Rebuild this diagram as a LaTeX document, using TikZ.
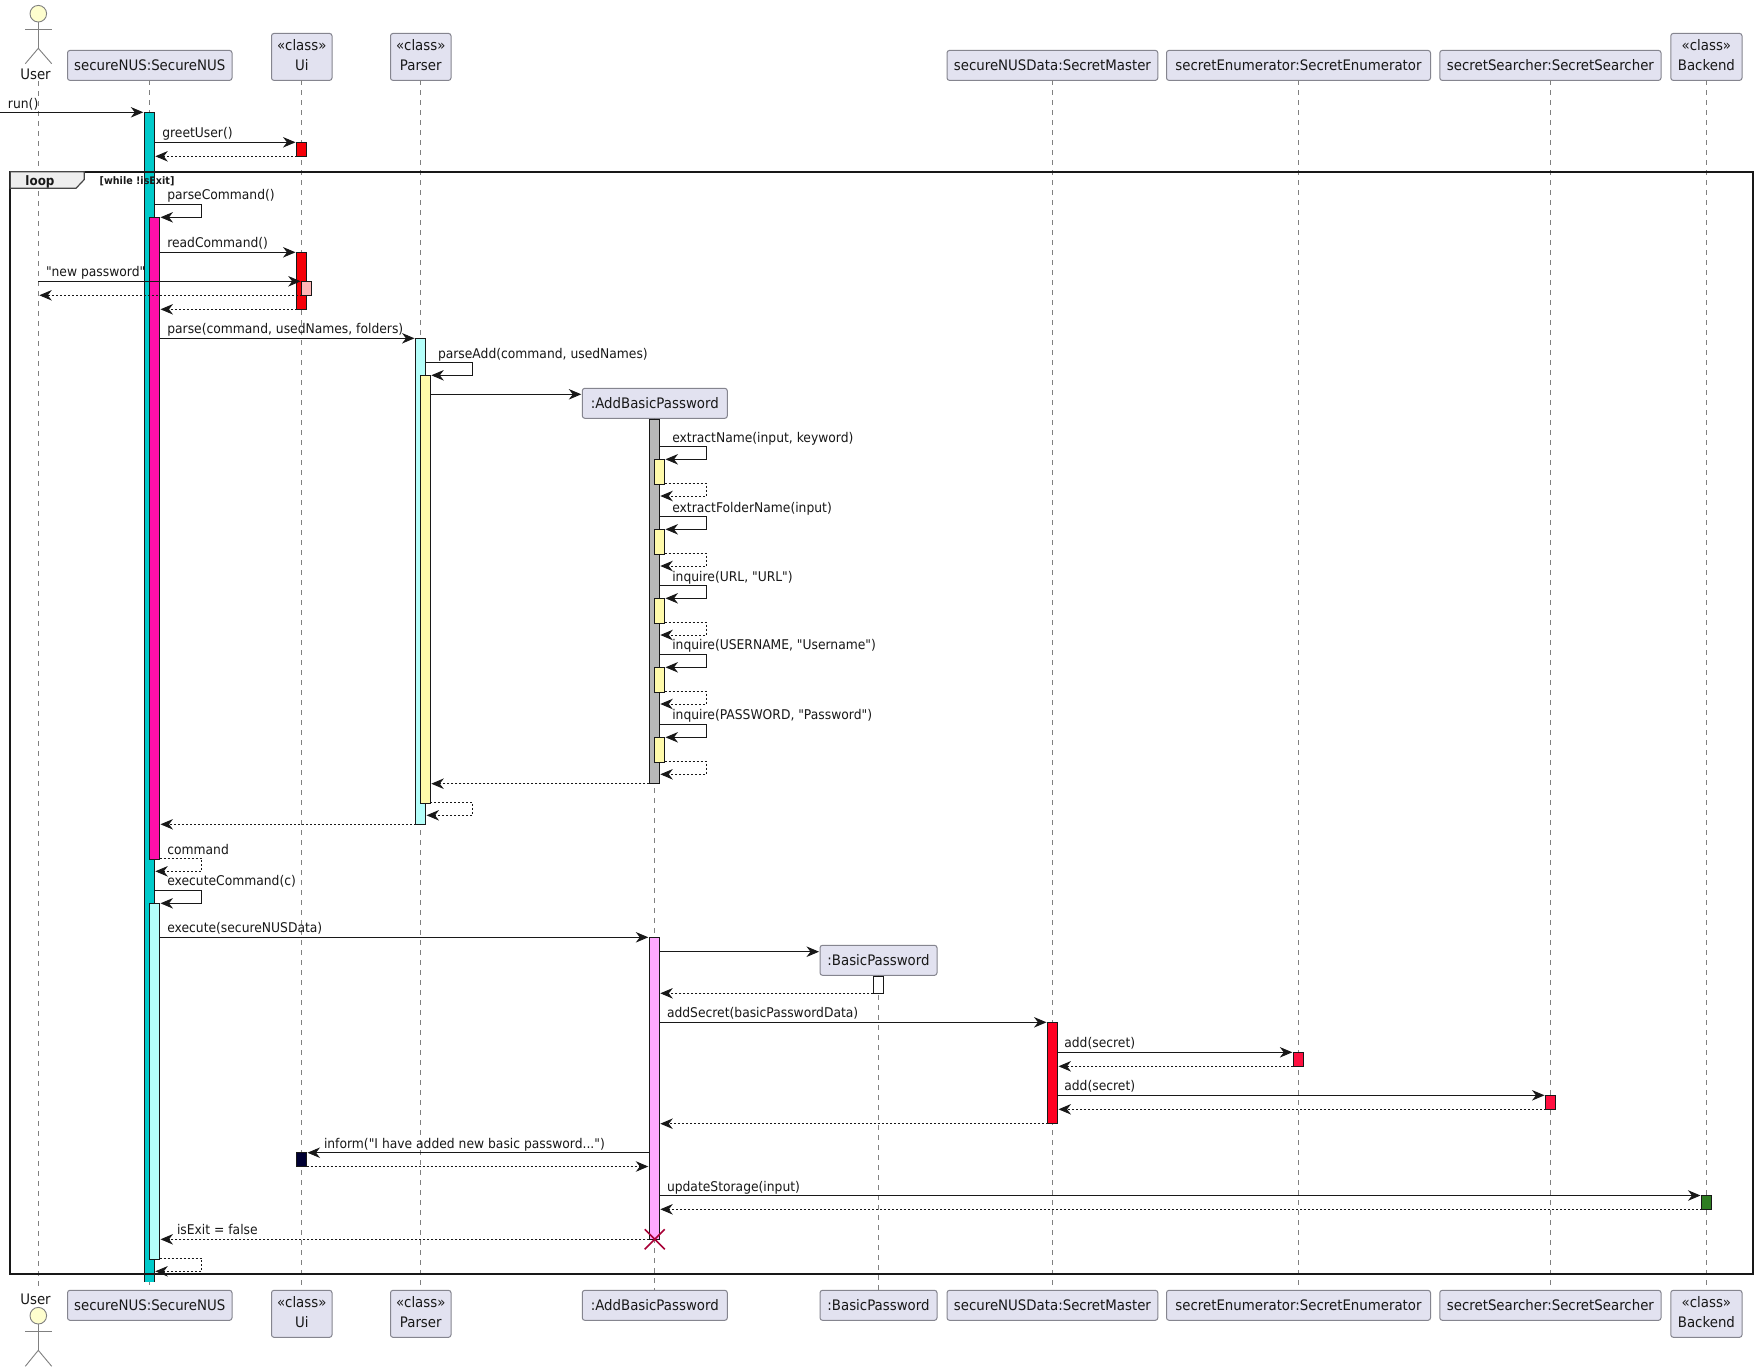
\documentclass[tikz,border=0pt]{standalone}
\usepackage{fontspec}
\setmainfont[FakeStretch=0.92]{DejaVu Sans}
\newfontfamily\plainf[FakeStretch=0.92]{DejaVu Sans}
\usetikzlibrary{arrows.meta,shapes.misc}
\definecolor{partfill}{HTML}{E2E2F0}
\definecolor{partline}{HTML}{85858F}
\definecolor{lifecol}{HTML}{808080}
\definecolor{inkc}{HTML}{181818}
\definecolor{teal1}{HTML}{00CACA}
\definecolor{pink1}{HTML}{FF0FAA}
\definecolor{red1}{HTML}{F50008}
\definecolor{red2}{HTML}{FF0022}
\definecolor{red3}{HTML}{FF1040}
\definecolor{pale1}{HTML}{FFB6B6}
\definecolor{cyan1}{HTML}{B4FFFA}
\definecolor{yellow1}{HTML}{FFFAAA}
\definecolor{grey1}{HTML}{B8B8B8}
\definecolor{lilac}{HTML}{FFA8FF}
\definecolor{navy1}{HTML}{000033}
\definecolor{green1}{HTML}{2E7D22}
\definecolor{skin}{HTML}{FEFECE}
\definecolor{xcol}{HTML}{A80036}
\definecolor{tabc}{HTML}{EEEEEE}
\newcounter{lblc}
\newcommand\lbl[3]{\stepcounter{lblc}\pgfmathsetmacro\lyy{#2-4.5}\node[msgl] (lbl\arabic{lblc}) at (#1,\lyy) {#3};}
\newcommand\pone[5]{\pgfmathsetmacro\pcx{(#2+#3)/2}\pgfmathsetmacro\pw{#3-#2}\node[partbox,minimum width=\pw pt,minimum height=30pt,text height=12.5pt,text depth=1.5pt] (#1) at (\pcx,#4+15) {#5};}
\newcommand\ptwo[5]{\pgfmathsetmacro\pcx{(#2+#3)/2}\pgfmathsetmacro\pw{#3-#2}\node[partbox,minimum width=\pw pt,minimum height=47pt,align=center] (#1) at (\pcx,#4+23.5) {\raisebox{0pt}[10pt][0pt]{«class»}\\[3.5pt]\raisebox{0pt}[10pt][2.5pt]{#5}};}
\newcommand\act[5]{\pgfmathsetmacro\acy{(#3+#4)/2}\pgfmathsetmacro\ach{#4-#3}\node[actbox,fill=#5,minimum height=\ach pt] (#1) at (#2,\acy) {};}
\newcommand\msgs[3]{\draw[msg] (#1 |- 0,#3) -- (#2 |- 0,#3);}
\newcommand\msgd[3]{\draw[msg,retdash] (#1 |- 0,#3) -- (#2 |- 0,#3);}
\newcommand\selfs[5]{\draw[msg] (#1 |- 0,#3) -- (#5,#3) -- (#5,#4) -- (#2 |- 0,#4);}
\newcommand\selfd[5]{\draw[msg,retdash] (#1 |- 0,#3) -- (#5,#3) -- (#5,#4) -- (#2 |- 0,#4);}
\tikzset{
  x=1pt,y=-1pt,
  partbox/.style={draw=partline,fill=partfill,rounded corners=2.5pt,line width=1pt,inner sep=0pt,outer sep=0pt,text=inkc,font=\fontsize{14.5}{17}\selectfont},
  actbox/.style={draw=inkc,line width=1pt,minimum width=10pt,inner sep=0pt,outer sep=0pt},
  lifeline/.style={draw=lifecol,line width=.9pt,dash pattern=on 5pt off 5pt},
  msg/.style={draw=inkc,line width=.9pt,-{Stealth[length=12.5pt,width=10.5pt,inset=4pt,color=inkc]},shorten >=1pt},
  retdash/.style={dash pattern=on 2pt off 2pt},
  msgl/.style={anchor=base west,inner sep=0pt,outer sep=0pt,text=inkc,font=\plainf\fontsize{13.4}{15}\selectfont},
  actorline/.style={draw=lifecol,line width=.9pt},
}
\begin{document}
\begin{tikzpicture}
\useasboundingbox (0,0) rectangle (1757,1371);
\fill[white] (0,0) rectangle (1757,1371);
% participants top
\pone{snt}{67.5}{232}{50.4}{secureNUS:SecureNUS}
\ptwo{uit}{271.5}{332}{33.4}{Ui}
\ptwo{pat}{390.5}{451}{33.4}{Parser}
\pone{abt}{582.3}{727.3}{388.3}{:AddBasicPassword}
\pone{bpt}{820}{937}{945.3}{:BasicPassword}
\pone{smt}{947}{1157.8}{50.4}{secureNUSData:SecretMaster}
\pone{set}{1166.5}{1430.5}{50.4}{secretEnumerator:SecretEnumerator}
\pone{sst}{1439.8}{1661}{50.4}{secretSearcher:SecretSearcher}
\ptwo{bet}{1670.8}{1742}{33.4}{Backend}
% participants bottom
\pone{snb}{67.5}{232}{1290.3}{secureNUS:SecureNUS}
\ptwo{uib}{271.5}{332}{1290.3}{Ui}
\ptwo{pab}{390.5}{451}{1290.3}{Parser}
\pone{abb}{582.3}{727.3}{1290.3}{:AddBasicPassword}
\pone{bpb}{820}{937}{1290.3}{:BasicPassword}
\pone{smb}{947}{1157.8}{1290.3}{secureNUSData:SecretMaster}
\pone{seb}{1166.5}{1430.5}{1290.3}{secretEnumerator:SecretEnumerator}
\pone{ssb}{1439.8}{1661}{1290.3}{secretSearcher:SecretSearcher}
\ptwo{beb}{1670.8}{1742}{1290.3}{Backend}
% actors
\node[circle,draw=lifecol,fill=skin,line width=.9pt,minimum size=16.6pt,inner sep=0pt,outer sep=0pt] (uh) at (38.3,13.7) {};
\node[anchor=base,inner sep=0pt,outer sep=0pt,text=inkc,font=\fontsize{14.5}{17}\selectfont] (ul) at (35.5,79) {User};
\coordinate (ubt) at (38.3,48.3);
\draw[actorline] (uh.south) -- (ubt);
\draw[actorline] (25.3,29.3) -- (51.7,29.3);
\draw[actorline] (25.3,63.7) -- (ubt) -- (51.7,63.7);
\node[circle,draw=lifecol,fill=skin,line width=.9pt,minimum size=16.6pt,inner sep=0pt,outer sep=0pt] (uh2) at (38.3,1315.7) {};
\node[anchor=base,inner sep=0pt,outer sep=0pt,text=inkc,font=\fontsize{14.5}{17}\selectfont] (ul2) at (35.5,1304) {User};
\coordinate (ubb) at (38.3,1350.3);
\draw[actorline] (uh2.south) -- (ubb);
\draw[actorline] (25.3,1331.3) -- (51.7,1331.3);
\draw[actorline] (25.3,1366.3) -- (ubb) -- (51.7,1366.3);
% lifelines
\coordinate (ult) at (38.3,81);
\coordinate (ulb) at (38.3,1290);
\draw[lifeline] (ult) -- (ulb);
\foreach \a/\b in {snt/snb,uit/uib,pat/pab,abt/abb,bpt/bpb,smt/smb,set/seb,sst/ssb,bet/beb}{
  \draw[lifeline] (\a.south) -- (\b.north);
}
% activations
\node[inner sep=0pt,outer sep=0pt,fill=teal1,minimum width=10pt,minimum height=1169.4pt] (asn) at (149.3,697) {};
\draw[inkc,line width=1pt] (asn.south west) -- (asn.north west) -- (asn.north east) -- (asn.south east);
\act{aui1}{301.5}{142.3}{156.3}{red1}
\act{apk}{154.5}{217.3}{859.3}{pink1}
\act{aui2}{301.5}{252.3}{309.5}{red1}
\act{aui3}{306.7}{281.3}{295.3}{pale1}
\act{apa}{420.5}{338.3}{824.3}{cyan1}
\act{aye}{425.3}{375.3}{803.3}{yellow1}
\act{agr}{654.3}{419.3}{783.7}{grey1}
\act{ay1}{659.5}{459.3}{484.3}{yellow1}
\act{ay2}{659.5}{529.3}{554.3}{yellow1}
\act{ay3}{659.5}{598.3}{623.3}{yellow1}
\act{ay4}{659.5}{667.3}{692.3}{yellow1}
\act{ay5}{659.5}{737.3}{762.3}{yellow1}
\act{acy}{154.5}{903.3}{1259.3}{cyan1}
\act{alc}{654.3}{937.3}{1239.3}{lilac}
\act{abp}{878.3}{976.3}{993.3}{white}
\act{asm}{1052.5}{1022.3}{1123.7}{red2}
\act{ase}{1298.3}{1052.3}{1066.3}{red3}
\act{ass}{1550.5}{1095.3}{1109.3}{red3}
\act{aui4}{301.5}{1152.7}{1166.5}{navy1}
\act{abe}{1706.5}{1195.3}{1209.3}{green1}
% messages
\coordinate (start) at (0,112.3);
\draw[msg] (start) -- (asn.west |- start);
\lbl{8}{113}{run()}
\msgs{asn.east}{aui1.west}{142.3}
\lbl{162.3}{142.3}{greetUser()}
\msgd{aui1.west}{asn.east}{156.3}
\selfs{asn.east}{apk.east}{204.3}{217.3}{201.7}
\lbl{167.3}{204.3}{parseCommand()}
\msgs{apk.east}{aui2.west}{252.3}
\lbl{167.3}{252.3}{readCommand()}
\msgs{ult}{aui3.west}{281.3}
\lbl{46}{281.3}{"new password"}
\msgd{aui3.west}{ult}{295.3}
\msgd{aui2.west}{apk.east}{309.3}
\msgs{apk.east}{apa.west}{338.3}
\lbl{167.3}{338.3}{parse(command, usedNames, folders)}
\selfs{apa.east}{aye.east}{362.7}{375.3}{472.7}
\lbl{438}{362.7}{parseAdd(command, usedNames)}
\msgs{aye.east}{abt.west}{394.3}
\selfs{agr.east}{ay1.east}{446.7}{459.3}{706.3}
\lbl{672.3}{446.7}{extractName(input, keyword)}
\selfd{ay1.east}{agr.east}{483.3}{496}{706.3}
\selfs{agr.east}{ay2.east}{516.7}{529.3}{706.3}
\lbl{672.3}{516.7}{extractFolderName(input)}
\selfd{ay2.east}{agr.east}{553.3}{566}{706.3}
\selfs{agr.east}{ay3.east}{585.7}{598.3}{706.3}
\lbl{672.3}{585.7}{inquire(URL, "URL")}
\selfd{ay3.east}{agr.east}{622.3}{635}{706.3}
\selfs{agr.east}{ay4.east}{654.3}{667.3}{706.3}
\lbl{672.3}{654.3}{inquire(USERNAME, "Username")}
\selfd{ay4.east}{agr.east}{691.3}{704}{706.3}
\selfs{agr.east}{ay5.east}{724.3}{737.3}{706.3}
\lbl{672.3}{724.3}{inquire(PASSWORD, "Password")}
\selfd{ay5.east}{agr.east}{761.3}{774.3}{706.3}
\msgd{agr.west}{aye.east}{783.7}
\selfd{aye.east}{apa.east}{802.3}{815.3}{472.7}
\msgd{apa.west}{apk.east}{824.3}
\selfd{apk.east}{asn.east}{858.3}{871.3}{201.7}
\lbl{167.3}{858.6}{command}
\selfs{asn.east}{acy.east}{890.3}{903.3}{201.7}
\lbl{167.3}{890.3}{executeCommand(c)}
\msgs{acy.east}{alc.west}{937.3}
\lbl{167.3}{937.3}{execute(secureNUSData)}
\msgs{alc.east}{bpt.west}{951.7}
\msgd{abp.west}{alc.east}{993.3}
\msgs{alc.east}{asm.west}{1022.3}
\lbl{667}{1022.3}{addSecret(basicPasswordData)}
\msgs{asm.east}{ase.west}{1052.3}
\lbl{1064.3}{1052.3}{add(secret)}
\msgd{ase.west}{asm.east}{1066.3}
\msgs{asm.east}{ass.west}{1095.3}
\lbl{1064.3}{1095.3}{add(secret)}
\msgd{ass.west}{asm.east}{1109.3}
\msgd{asm.west}{alc.east}{1123.7}
\msgs{alc.west}{aui4.east}{1152.7}
\lbl{324}{1152.7}{inform("I have added new basic password...")}
\msgd{aui4.east}{alc.west}{1166.5}
\msgs{alc.east}{abe.west}{1195.5}
\lbl{667}{1195.5}{updateStorage(input)}
\msgd{abe.west}{alc.east}{1209.3}
\msgd{alc.west}{acy.east}{1239.3}
\lbl{177}{1239.3}{isExit = false}
\selfd{acy.east}{asn.east}{1258.3}{1271.3}{201.7}
\node[cross out,draw=xcol,line width=1.6pt,minimum size=20pt,inner sep=0pt,outer sep=0pt] (destroy) at (654.7,1239.3) {};
% loop frame
\node[draw=inkc,line width=2pt,minimum width=1742.4pt,minimum height=1102.6pt,inner sep=0pt,outer sep=0pt] (loopframe) at (881.5,723) {};
\filldraw[draw=inkc!80,fill=tabc,line width=1.2pt] (10.3,171.7) -- (84.3,171.7) -- (84.3,179.5) -- (76,188.3) -- (10.3,188.3) -- cycle;
\node[anchor=base,inner sep=0pt,outer sep=0pt,text=inkc,font=\bfseries\fontsize{13}{15}\selectfont] (looplbl) at (40,185) {loop};
\node[anchor=base west,inner sep=0pt,outer sep=0pt,text=inkc,font=\bfseries\fontsize{10.4}{12}\selectfont] (loopcond) at (99.7,184) {[while !isExit]};
\end{tikzpicture}
\end{document}
